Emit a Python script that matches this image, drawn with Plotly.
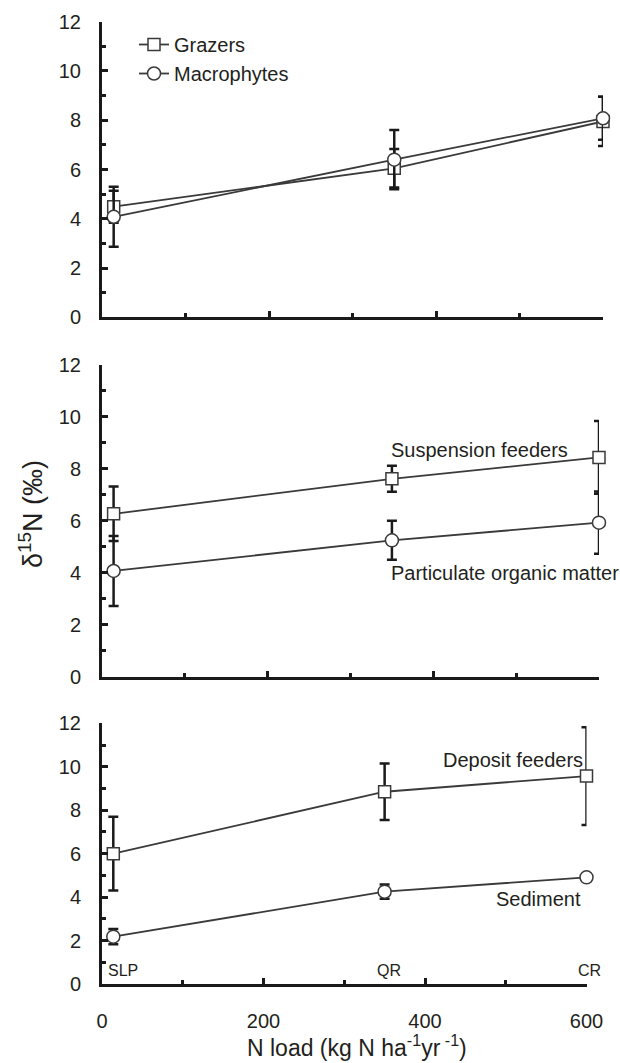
import plotly.graph_objects as go

# ---------------- data ----------------
n_load = [14, 350, 600]
site_labels = ["SLP", "QR", "CR"]

grazers = [4.49, 6.05, 7.95]
grazers_err = [0.65, 0.78, 1.0]
macrophytes = [4.08, 6.4, 8.08]
macrophytes_err = [1.22, 1.2, 0.87]

suspension = [6.27, 7.62, 8.44]
suspension_err = [1.05, 0.5, 1.4]
pom = [4.07, 5.25, 5.93]
pom_err = [1.35, 0.75, 1.2]

deposit = [6.0, 8.85, 9.57]
deposit_err = [1.7, 1.3, 2.25]
sediment = [2.18, 4.25, 4.91]
sediment_err = [0.35, 0.33, 0.05]

y_ticks = [0, 2, 4, 6, 8, 10, 12]
x_ticks = [0, 200, 400, 600]

# ---------------- style ----------------
W, H = 620, 1063
TXT = "#231f20"
LINE = "#3a3a3a"
FONT = "Liberation Sans, Arial, Helvetica, sans-serif"

def px_x(p):
    return p / W

def px_y(p):
    return 1 - p / H

fig = go.Figure()

def add_series(x, y, err, symbol, name, xa, ya, showlegend=False, group=None):
    fig.add_trace(go.Scatter(
        x=x, y=y, name=name, mode="lines+markers",
        xaxis=xa, yaxis=ya, showlegend=showlegend, legendgroup=group,
        cliponaxis=False,
        line=dict(color=LINE, width=1.8),
        marker=dict(symbol=symbol, size=12 if symbol == "square" else 13,
                    color="white", line=dict(color=LINE, width=1.5)),
        error_y=dict(type="data", array=err, visible=True,
                     color="#1a1a1a", thickness=2.5, width=5),
    ))

add_series(n_load, grazers, grazers_err, "square", "Grazers", "x", "y", True, "g")
add_series(n_load, macrophytes, macrophytes_err, "circle", "Macrophytes", "x", "y", True, "m")
add_series(n_load, suspension, suspension_err, "square", "Suspension feeders", "x2", "y2")
add_series(n_load, pom, pom_err, "circle", "Particulate organic matter", "x2", "y2")
add_series(n_load, deposit, deposit_err, "square", "Deposit feeders", "x3", "y3")
add_series(n_load, sediment, sediment_err, "circle", "Sediment", "x3", "y3")

# panel geometry in pixels
panels = [
    dict(x0=102, x1=603, y0=317.3, y1=21.7),
    dict(x0=102, x1=599, y0=676.7, y1=365.0),
    dict(x0=102, x1=586.5, y0=984.0, y1=723.3),
]

axis_common = dict(
    showline=True, linecolor="#1a1a1a", linewidth=3,
    ticks="inside", ticklen=6, tickwidth=3, tickcolor="#1a1a1a",
    showgrid=False, zeroline=False, automargin=False,
    tickfont=dict(family=FONT, size=20, color=TXT),
)

for i, p in enumerate(panels):
    sfx = "" if i == 0 else str(i + 1)
    fig.layout["xaxis" + sfx] = dict(
        axis_common,
        domain=[px_x(p["x0"]), px_x(p["x1"])],
        range=[0, 600], anchor="y" + sfx,
        tickmode="array", tickvals=x_ticks, ticktext=[str(v) for v in x_ticks],
        showticklabels=(i == 2), ticklabelstandoff=17,
        minor=dict(dtick=100, tick0=0, ticks="inside", ticklen=4, tickwidth=3,
                   tickcolor="#1a1a1a", showgrid=False),
    )
    fig.layout["yaxis" + sfx] = dict(
        axis_common,
        domain=[px_y(p["y0"]), px_y(p["y1"])],
        range=[0, 12], anchor="x" + sfx,
        tickmode="array", tickvals=y_ticks, ticktext=[str(v) for v in y_ticks],
        ticklabelstandoff=14,
        minor=dict(dtick=1, tick0=0, ticks="inside", ticklen=4, tickwidth=3,
                   tickcolor="#1a1a1a", showgrid=False),
    )

ann = []
def label(text, x, y, xref, yref, size=20, xanchor="left"):
    ann.append(dict(text=text, x=x, y=y, xref=xref, yref=yref, showarrow=False,
                    xanchor=xanchor, yanchor="middle",
                    font=dict(family=FONT, size=size, color=TXT)))

label("Suspension feeders", 346, 8.73, "x2", "y2")
label("Particulate organic matter", 346, 3.98, "x2", "y2")
label("Deposit feeders", 420, 10.31, "x3", "y3")
label("Sediment", 485, 3.9, "x3", "y3")
for s, xv in zip(site_labels, [5, 338, 587]):
    label(s, xv, 0.64, "x3", "y3", size=16)

# axis titles
ann.append(dict(text="N load (kg N ha<sup>-1</sup>yr<sup> -1</sup>)",
                x=px_x(357), y=0, xref="paper", yref="paper",
                showarrow=False, xanchor="center", yanchor="bottom",
                font=dict(family=FONT, size=23, color=TXT)))
ann.append(dict(text="δ<sup>15</sup>N (‰)", textangle=-90,
                x=px_x(31), y=px_y(514), xref="paper", yref="paper",
                showarrow=False, xanchor="center", yanchor="middle",
                font=dict(family=FONT, size=27, color=TXT)))

fig.update_layout(
    width=W, height=H,
    margin=dict(l=0, r=0, t=0, b=0, pad=0, autoexpand=False),
    paper_bgcolor="white", plot_bgcolor="white",
    annotations=ann,
    showlegend=True,
    legend=dict(x=px_x(134), y=px_y(25), xanchor="left", yanchor="top",
                bgcolor="rgba(0,0,0,0)", tracegroupgap=0, itemwidth=30,
                font=dict(family=FONT, size=20, color=TXT)),
)

fig.write_html("out.html", config={"displayModeBar": False},
               post_script="document.body.style.margin='0';document.body.style.overflow='hidden';")
